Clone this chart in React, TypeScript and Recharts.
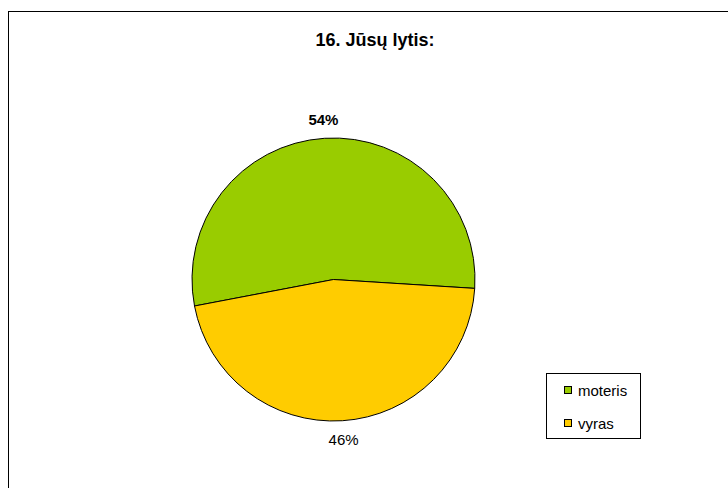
import React from "react";
import { PieChart, Pie, Cell, Legend } from "recharts";

const categories = ["moteris", "vyras"];
const shares = [54, 46];
const colors = ["#99CC00", "#FFCC00"];

const data = categories.map((name, i) => ({ name, value: shares[i] }));

const RADIAN = Math.PI / 180;
const FONT = "'Liberation Sans', Arial, sans-serif";

const renderLabel = (props: any) => {
    const { cx, cy, midAngle, outerRadius, percent, index } = props;
    const r = outerRadius + 19;
    const x = cx + r * Math.cos(-midAngle * RADIAN);
    const y = cy + r * Math.sin(-midAngle * RADIAN);
    return (
        <text x={x} y={y} textAnchor="middle" dominantBaseline="central"
            fontFamily={FONT} fontSize={15} fontWeight={index === 0 ? "bold" : "normal"} fill="#000">
            {Math.round(percent * 100) + "%"}
        </text>
    );
};

const renderLegend = (props: any) => {
    const { payload } = props;
    return (
        <div style={{ fontFamily: FONT, fontSize: 15, color: "#000" }}>
            {payload.map((entry: any, i: number) => (
                <div key={i} style={{ position: "absolute", left: 17, top: 8 + i * 33, height: 16, display: "flex", alignItems: "center" }}>
                    <span style={{ display: "inline-block", width: 6, height: 6, background: entry.color, border: "1px solid #000", marginRight: 6 }} />
                    <span>{entry.value}</span>
                </div>
            ))}
        </div>
    );
};

const App = () => {
    return (
        <div style={{ position: "absolute", left: 0, top: 0, width: 728, height: 488, background: "#fff", overflow: "hidden" }}>
            <div style={{ position: "absolute", left: 8, top: 11, width: 800, height: 600, borderLeft: "1.5px solid #000", borderTop: "1.5px solid #000" }} />
            <div style={{ position: "absolute", left: 0, top: 29, width: 750, textAlign: "center", fontFamily: FONT, fontSize: 18, fontWeight: "bold", lineHeight: "22px" }}>
                16. Jūsų lytis:
            </div>
            <div style={{ position: "absolute", left: 0, top: 0 }}>
                <PieChart width={728} height={488} margin={{ top: 0, right: 0, bottom: 0, left: 0 }}>
                    <Pie
                        data={data}
                        dataKey="value"
                        nameKey="name"
                        cx={333.5}
                        cy={279.5}
                        outerRadius={141.5}
                        startAngle={-3.6}
                        endAngle={356.4}
                        stroke="#000"
                        strokeWidth={1}
                        label={renderLabel}
                        labelLine={false}
                        isAnimationActive={false}
                    >
                        {data.map((d, i) => (
                            <Cell key={d.name} fill={colors[i]} />
                        ))}
                    </Pie>
                    <Legend
                        content={renderLegend}
                        wrapperStyle={{ position: "absolute", left: 546, top: 373, width: 93, height: 64, border: "1px solid #000", background: "#fff", bottom: "auto", right: "auto" }}
                    />
                </PieChart>
            </div>
        </div>
    );
};

export default App;
